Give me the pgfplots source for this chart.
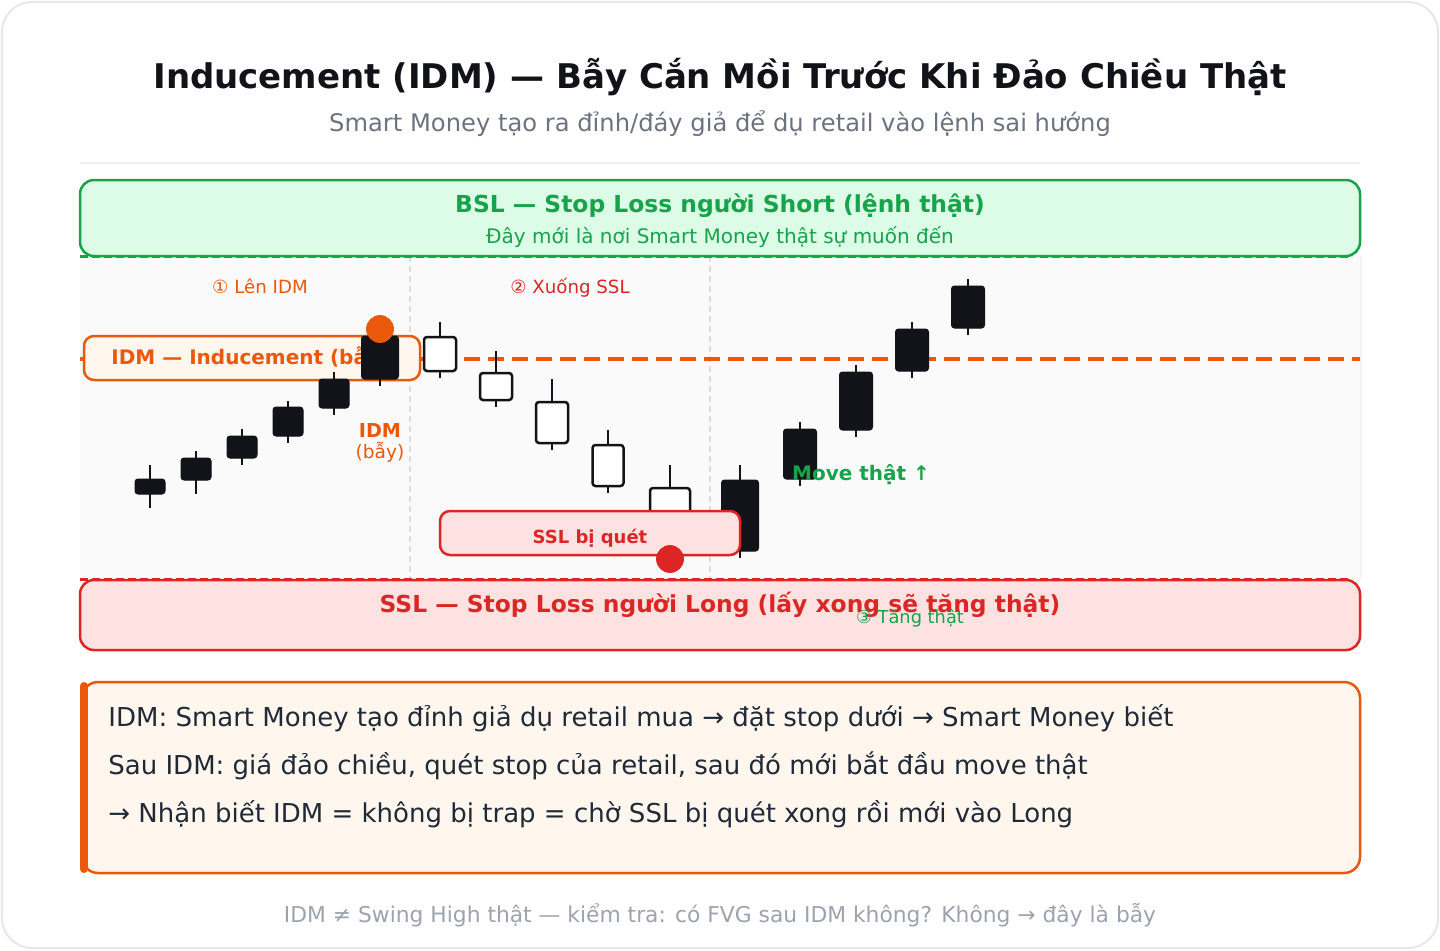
\documentclass[border=0pt]{standalone}
\usepackage{fontspec}
\setmainfont{DejaVu Sans}
\usepackage{pgfplots}
\pgfplotsset{compat=1.18}

\definecolor{ink}{HTML}{111318}
\definecolor{subgray}{HTML}{6B7280}
\definecolor{footgray}{HTML}{9CA3AF}
\definecolor{bodytext}{HTML}{1F2937}
\definecolor{bordergray}{HTML}{E5E7EB}
\definecolor{chartbg}{HTML}{FAFAFA}
\definecolor{gridgray}{HTML}{DDDDDD}
\definecolor{bslgreen}{HTML}{16A34A}
\definecolor{bslfill}{HTML}{DCFCE7}
\definecolor{sslred}{HTML}{DC2626}
\definecolor{sslfill}{HTML}{FEE2E2}
\definecolor{idmorange}{HTML}{EA580C}
\definecolor{idmfill}{HTML}{FFF7ED}
\definecolor{candle}{HTML}{111318}

% one candle: x, body top, body bottom, high, low, half width, body style
\newcommand\candle[7]{%
  \addplot[candle, line width=1.25pt] coordinates {(#1,#4) (#1,#5)};
  \pgfmathsetmacro\candleL{#1-#6}\pgfmathsetmacro\candleR{#1+#6}%
  \edef\temp{\noexpand\addplot[#7] coordinates
    {(\candleL,#2) (\candleR,#2) (\candleR,#3) (\candleL,#3)} -- cycle;}\temp
}

\begin{document}
\begin{tikzpicture}[every node/.style={inner sep=0pt}]
\begin{axis}[
  width=720pt, height=475pt, scale only axis,
  xmin=0, xmax=1440, ymin=0, ymax=950, y dir=reverse,
  hide axis, clip=false,
  bull/.style={fill=candle, draw=candle, line width=0.5pt, rounded corners=1.5pt},
  bear/.style={fill=white, draw=candle, line width=1.25pt, rounded corners=1.5pt},
]
\path (0,0) rectangle (1440,950);
\draw[bordergray, line width=1pt, rounded corners=15pt] (2,2) rectangle (1438,948);

% heading
\node[anchor=base, ink, font=\fontsize{17}{20}\selectfont\bfseries] at (720,88)
  {Inducement (IDM) — Bẫy Cắn Mồi Trước Khi Đảo Chiều Thật};
\node[anchor=base, subgray, font=\fontsize{12.1}{14}\selectfont] at (720,131)
  {Smart Money tạo ra đỉnh/đáy giả để dụ retail vào lệnh sai hướng};
\draw[black!6, line width=1pt] (80,163) -- (1360,163);

% chart area
\fill[chartbg] (80,256) rectangle (1360,579);
\draw[black!5, line width=0.75pt] (1361,256) -- (1361,579);
\draw[gridgray, line width=0.75pt, dash pattern=on 3pt off 2pt] (410,256) -- (410,579);
\draw[gridgray, line width=0.75pt, dash pattern=on 3pt off 2pt] (710,256) -- (710,579);

% liquidity zones
\draw[bslgreen, fill=bslfill, line width=1.25pt, rounded corners=7pt] (80,180) rectangle (1360,256);
\node[anchor=base, bslgreen, font=\fontsize{11.7}{13}\selectfont\bfseries] at (720,212)
  {BSL — Stop Loss người Short (lệnh thật)};
\node[anchor=base, bslgreen, font=\fontsize{10}{12}\selectfont] at (720,243)
  {Đây mới là nơi Smart Money thật sự muốn đến};
\draw[bslgreen, line width=1.5pt, dash pattern=on 4pt off 2pt] (80,256) -- (1352,256);

\draw[sslred, fill=sslfill, line width=1.25pt, rounded corners=7pt] (80,580) rectangle (1360,650);
\node[anchor=base, sslred, font=\fontsize{11.7}{13}\selectfont\bfseries] at (720,612)
  {SSL — Stop Loss người Long (lấy xong sẽ tăng thật)};
\draw[sslred, line width=1.5pt, dash pattern=on 4pt off 2pt] (80,579) -- (1352,579);

% phase labels
\node[anchor=base, idmorange, font=\fontsize{9.1}{11}\selectfont] at (260,293) {① Lên IDM};
\node[anchor=base, sslred, font=\fontsize{9.1}{11}\selectfont] at (570,293) {② Xuống SSL};

% IDM level
\draw[idmorange, line width=1.75pt, dash pattern=on 8pt off 4pt] (80,359) -- (1360,359);
\draw[idmorange, fill=idmfill, line width=1.25pt, rounded corners=5pt] (84,336) rectangle (420,380);
\node[anchor=base west, idmorange, font=\fontsize{10}{12}\selectfont\bfseries] at (111,364)
  {IDM — Inducement (bẫy)};

% candles
\candle{150}{479}{494}{465}{508}{15}{bull}
\candle{196}{458}{480}{451}{494}{15}{bull}
\candle{242}{436}{458}{429}{465}{15}{bull}
\candle{288}{407}{436}{401}{443}{15}{bull}
\candle{334}{379}{408}{372}{415}{15}{bull}
\candle{380}{336}{379}{329}{386}{18.5}{bull}
\candle{440}{337}{371}{322}{378}{16}{bear}
\candle{496}{373}{400}{351}{407}{16}{bear}
\candle{552}{402}{443}{379}{450}{16}{bear}
\candle{608}{445}{486}{430}{493}{15.5}{bear}
\candle{670}{488}{545}{465}{559}{20}{bear}
\candle{740}{480}{551}{465}{558}{18.5}{bull}
\candle{800}{429}{479}{422}{486}{16.5}{bull}
\candle{856}{372}{430}{365}{437}{16.5}{bull}
\candle{912}{329}{371}{322}{378}{16.5}{bull}
\candle{968}{286}{328}{279}{335}{16.5}{bull}

% IDM marker
\addplot[only marks, mark=*, mark size=6.75pt, idmorange] coordinates {(380,329)};
\node[anchor=base, idmorange, font=\fontsize{9.6}{11}\selectfont\bfseries] at (380,437) {IDM};
\node[anchor=base, idmorange, font=\fontsize{9.3}{11}\selectfont] at (380,458) {(bẫy)};

% SSL sweep marker
\addplot[only marks, mark=*, mark size=6.75pt, sslred] coordinates {(670,559)};
\draw[sslred, fill=sslfill, line width=1.25pt, rounded corners=5pt] (440,511) rectangle (740,555);
\node[anchor=base, sslred, font=\fontsize{9}{11}\selectfont\bfseries] at (590,543) {SSL bị quét};

\node[anchor=base, bslgreen, font=\fontsize{10}{12}\selectfont\bfseries] at (861,480) {Move thật ↑};
\node[anchor=base, bslgreen, font=\fontsize{8.9}{10}\selectfont] at (910,623) {③ Tăng thật};

% explanation box
\draw[idmorange, fill=idmfill, line width=1.25pt, rounded corners=8pt] (82,682) rectangle (1360,873);
\draw[idmorange, line width=4pt, line cap=round] (84,686) -- (84,869);
\node[anchor=base west, bodytext, font=\fontsize{13}{15}\selectfont] at (108,726)
  {IDM: Smart Money tạo đỉnh giả dụ retail mua → đặt stop dưới → Smart Money biết};
\node[anchor=base west, bodytext, font=\fontsize{13}{15}\selectfont] at (108,774)
  {Sau IDM: giá đảo chiều, quét stop của retail, sau đó mới bắt đầu move thật};
\node[anchor=base west, bodytext, font=\fontsize{13}{15}\selectfont] at (108,822)
  {→ Nhận biết IDM = không bị trap = chờ SSL bị quét xong rồi mới vào Long};

\node[anchor=base, footgray, font=\fontsize{10.9}{12}\selectfont] at (720,922)
  {IDM ≠ Swing High thật — kiểm tra: có FVG sau IDM không? Không → đây là bẫy};
\end{axis}
\end{tikzpicture}
\end{document}
